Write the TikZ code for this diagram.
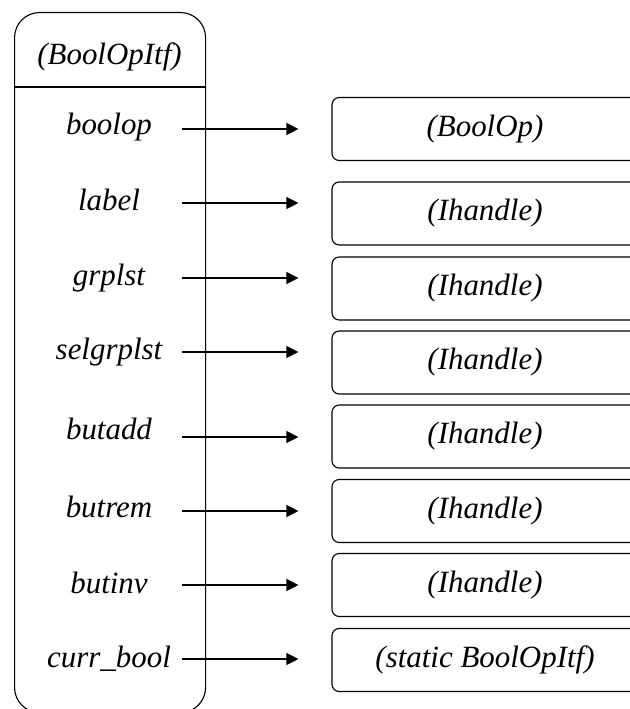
\documentclass[tikz,border=0pt]{standalone}
\usepackage{fontspec}
\setmainfont{Liberation Serif}
\usetikzlibrary{positioning,arrows.meta}
\tikzset{
  itfbox/.style={draw, rounded corners=6.25mm, line width=0.8pt,
    minimum width=47.75mm, minimum height=175mm, inner sep=0pt},
  hdlbox/.style={draw, rounded corners=1.8mm, line width=0.8pt,
    minimum width=76.5mm, minimum height=15.75mm, inner sep=0pt,
    font=\fontsize{22}{26}\selectfont\itshape},
  fldlabel/.style={font=\fontsize{22}{26}\selectfont\itshape, anchor=base},
  fldarrow/.style={-{Triangle[length=3mm,width=3mm]}, line width=0.8pt, shorten >=8.25mm},
}

\begin{document}
\begin{tikzpicture}
  \useasboundingbox (0,0) rectangle (15.725,-17.725);
  % the interface record
  \node[itfbox, anchor=north west] (itf) at (0.35,-0.3) {};
  \node[font=\fontsize{22}{26}\selectfont\itshape] (title) at (2.7375,-1.42) {(BoolOpItf)};
  \coordinate (div) at (0,-2.175);
  \draw[line width=0.8pt] (itf.west |- div) -- (itf.east |- div);
  \coordinate (ax) at (4.55,0);
  % fields (baselines) and what they point to
  \node[fldlabel] (f1) at (2.725,-3.375) {boolop};
  \node[hdlbox] (h1) at (12.125,-3.225) {(BoolOp)};
  \node[fldlabel] (f2) at (2.725,-5.25) {label};
  \node[hdlbox] (h2) at (12.125,-5.3375) {(Ihandle)};
  \node[fldlabel] (f3) at (2.725,-7.125) {grplst};
  \node[hdlbox] (h3) at (12.125,-7.2125) {(Ihandle)};
  \node[fldlabel] (f4) at (2.725,-8.975) {selgrplst};
  \node[hdlbox] (h4) at (12.125,-9.0625) {(Ihandle)};
  \node[fldlabel] (f5) at (2.725,-10.975) {butadd};
  \node[hdlbox] (h5) at (12.125,-10.9125) {(Ihandle)};
  \node[fldlabel] (f6) at (2.725,-12.925) {butrem};
  \node[hdlbox] (h6) at (12.125,-12.775) {(Ihandle)};
  \node[fldlabel] (f7) at (2.725,-14.825) {butinv};
  \node[hdlbox] (h7) at (12.125,-14.625) {(Ihandle)};
  \node[fldlabel] (f8) at (2.725,-16.675) {curr\_bool};
  \node[hdlbox] (h8) at (12.125,-16.5) {(static BoolOpItf)};
  % pointers, a little above each baseline
  \draw[fldarrow] ([yshift=1.5mm]f1.base -| ax) -- ([yshift=1.5mm]f1.base -| h1.west);
  \draw[fldarrow] ([yshift=1.75mm]f2.base -| ax) -- ([yshift=1.75mm]f2.base -| h2.west);
  \draw[fldarrow] ([yshift=1.75mm]f3.base -| ax) -- ([yshift=1.75mm]f3.base -| h3.west);
  \draw[fldarrow] ([yshift=1.75mm]f4.base -| ax) -- ([yshift=1.75mm]f4.base -| h4.west);
  \draw[fldarrow] ([yshift=0.5mm]f5.base -| ax) -- ([yshift=0.5mm]f5.base -| h5.west);
  \draw[fldarrow] ([yshift=1.5mm]f6.base -| ax) -- ([yshift=1.5mm]f6.base -| h6.west);
  \draw[fldarrow] ([yshift=2mm]f7.base -| ax) -- ([yshift=2mm]f7.base -| h7.west);
  \draw[fldarrow] ([yshift=2mm]f8.base -| ax) -- ([yshift=2mm]f8.base -| h8.west);
\end{tikzpicture}
\end{document}
